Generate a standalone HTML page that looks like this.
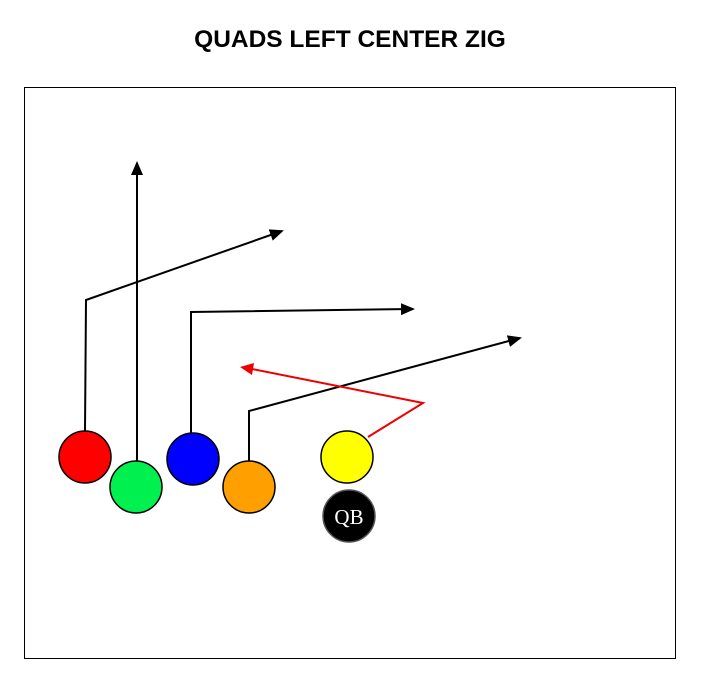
<!DOCTYPE html>
<html><head><meta charset="utf-8"><style>
html,body{margin:0;padding:0;background:#fff;width:701px;height:678px;overflow:hidden}
</style></head><body>
<svg width="701" height="678" viewBox="0 0 701 678" xmlns="http://www.w3.org/2000/svg">
<defs>
<marker id="ab" markerWidth="14" markerHeight="12" refX="12" refY="6" orient="auto" markerUnits="userSpaceOnUse"><path d="M0,0 L14,6 L0,12 z" fill="#000"/></marker>
</defs>
<text x="350" y="47" text-anchor="middle" font-family="'Liberation Sans',sans-serif" font-weight="bold" font-size="24.5" fill="#000">QUADS LEFT CENTER ZIG</text>
<rect x="24.5" y="87.5" width="651" height="571" fill="#fff" stroke="#000" stroke-width="1"/>
<g fill="none" stroke="#000" stroke-width="2">
<polyline points="85,431 86,300 282,231" marker-end="url(#ab)"/>
<polyline points="137,461 137,163" marker-end="url(#ab)"/>
<polyline points="191,433 191,312 413,309" marker-end="url(#ab)"/>
<polyline points="249,461 249,411 520,338" marker-end="url(#ab)"/>
<polyline points="368,437 423,403 252,369" stroke="#e00"/>
</g>
<path d="M240,367 L254,363 L252,375 z" fill="#e00"/>
<g stroke="#000" stroke-width="1.5">
<circle cx="85" cy="457" r="26" fill="#f00"/>
<circle cx="136" cy="487" r="26" fill="#00f050"/>
<circle cx="193" cy="459" r="26" fill="#00f"/>
<circle cx="249" cy="487" r="26" fill="#ffa000"/>
<circle cx="347" cy="457" r="26" fill="#ff0"/>
<circle cx="349" cy="516" r="26" fill="#000" stroke="#555"/>
</g>
<text x="349" y="524" text-anchor="middle" font-family="'Liberation Serif',serif" font-size="21" fill="#fff">QB</text>
</svg>
</body></html>
